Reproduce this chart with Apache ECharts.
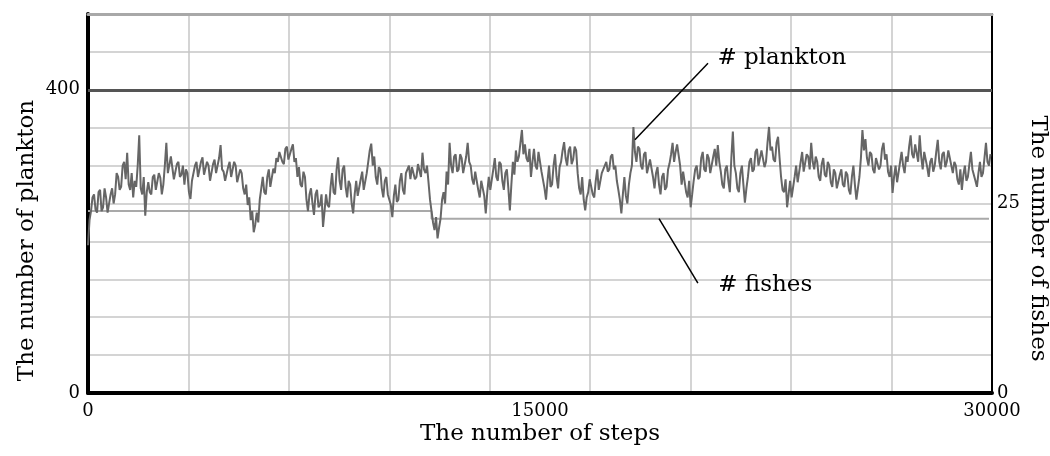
<!DOCTYPE html>
<html><head><meta charset="utf-8">
<script src="https://cdn.jsdelivr.net/npm/echarts@6/dist/echarts.min.js"></script>
<style>html,body{margin:0;padding:0;background:#fff}#c{width:1050px;height:456px}</style>
</head><body><div id="c"></div>
<script>
// ---- data ----
const stepInterval = 50; // plankton sampled every 50 steps
const plankton = [
 195,228, 240,258, 262,242, 238,265, 268,240, 245,270, 258,238, 236,262, 270,250, 262,290,
 285,268, 272,300, 305,282, 317,275, 268,290, 258,280, 272,300, 340,270, 262,285, 234,265,
 278,265, 262,285, 288,268, 270,290, 284,262, 275,300, 330,290, 292,312, 310,282, 280,302,
 305,285, 288,300, 275,295, 290,265, 256,280, 282,300, 305,285, 284,305, 311,288, 290,305,
 300,280, 282,302, 308,290, 288,310, 327,295, 292,280, 278,298, 305,285, 285,305, 300,278,
 280,295, 290,270, 262,275, 248,258, 228,240, 212,222, 238,225, 255,270, 285,265, 262,285,
 295,272, 270,296, 290,310, 305,318, 320,305, 302,322, 325,308, 306,322, 328,305, 310,285,
 298,275, 272,292, 285,255, 240,262, 270,250, 235,262, 268,245, 248,262, 219,240, 262,248,
 245,272, 290,265, 262,295, 311,280, 268,295, 300,272, 258,280, 275,250, 237,262, 280,260,
 262,282, 292,268, 270,290, 305,320, 329,300, 312,285, 275,298, 295,270, 258,280, 285,262,
 262,248, 232,260, 275,252, 255,280, 290,268, 262,290, 288,300, 282,298, 300,282, 285,302,
 303,285, 317,295, 290,300, 278,255, 240,225, 215,232, 204,218, 230,255, 265,250, 292,275,
 330,300, 290,312, 315,292, 295,315, 310,290, 288,312, 330,305, 300,282, 275,292, 290,268,
 258,280, 282,260, 237,265, 285,268, 270,295, 310,285, 280,305, 302,280, 268,290, 295,270,
 241,275, 305,288, 320,305, 312,330, 347,315, 328,310, 305,322, 285,305, 322,300, 295,318,
 318,292, 290,270, 255,280, 300,272, 275,300, 315,285, 270,298, 305,320, 331,310, 300,320,
 325,302, 308,325, 320,290, 270,262, 285,255, 241,258, 265,282, 282,262, 258,280, 295,268,
 270,290, 292,300, 305,292, 295,312, 315,295, 300,280, 268,255, 237,262, 285,260, 250,275,
 290,300, 351,318, 305,325, 322,300, 295,315, 318,290, 288,308, 310,285, 270,290, 298,275,
 262,285, 290,268, 272,295, 303,315, 330,305, 318,328, 328,300, 275,292, 290,265, 258,280,
 245,262, 280,295, 300,282, 285,310, 318,295, 292,315, 310,290, 288,312, 322,300, 327,305,
 292,275, 270,295, 300,280, 265,310, 345,300, 290,270, 265,290, 300,275, 251,270, 285,305,
 310,292, 295,318, 322,300, 300,320, 318,298, 305,330, 351,320, 325,308, 305,330, 338,310,
 285,268, 265,282, 245,262, 280,258, 260,285, 300,278, 278,305, 318,292, 290,315, 312,295,
 330,305, 295,312, 305,285, 280,302, 310,288, 285,305, 300,278, 272,295, 290,270, 268,288,
 295,275, 272,292, 288,268, 262,285, 300,275, 255,270, 285,310, 347,320, 335,310, 300,318,
 315,295, 290,310, 312,295, 300,322, 330,308, 315,292, 285,300, 264,285, 300,278, 280,305,
 318,300, 290,312, 305,325, 340,315, 310,328, 330,305, 340,312, 295,318, 320,298, 285,305,
 310,292, 300,318, 334,305, 295,315, 318,298, 305,320, 322,300, 290,305, 300,282, 275,295,
 268,288, 300,280, 285,302, 318,295, 295,280, 272,290, 305,285, 290,310, 330,305, 300,315
];
const fishSteps = [0, 11400, 29900];
const fishes = [24, 23, 23];
const planktonCap = 400;
const xTickLabels = [0, 15000, 30000];
const leftTickLabels = [0, 400];
const rightTickLabels = [0, 25];
const planktonCallout = [[18150, 334], [20575, 435]];
const fishCallout = [[18950, 23.0], [20240, 14.5]];
const planktonLabelAt = [20870, 442];
const fishLabelAt = [20900, 14.25];

// ---- chart ----
const FONT = "'DejaVu Serif', 'Liberation Serif', serif";
const chart = echarts.init(document.getElementById('c'), null, {renderer: 'canvas'});
const gridColor = '#c6c6c6';
chart.setOption({
  animation: false,
  backgroundColor: '#fff',
  textStyle: {fontFamily: FONT, color: '#000'},
  grid: {left: 88, right: 58, top: 14, bottom: 63, containLabel: false, outerBoundsMode: 'none'},
  xAxis: [
    {type: 'value', min: 0, max: 30000, interval: 30000 / 9, position: 'bottom',
     axisLine: {show: true, onZero: false, lineStyle: {color: '#000', width: 4}},
     axisTick: {show: false}, axisLabel: {show: false},
     splitLine: {show: true, lineStyle: {color: gridColor, width: 1.5}},
     name: 'The number of steps', nameLocation: 'middle', nameGap: 30, nameMoveOverlap: false,
     nameTextStyle: {fontFamily: FONT, fontSize: 23, color: '#000'}},
    {type: 'value', min: 0, max: 30000, interval: 15000, position: 'bottom',
     axisLine: {show: false}, axisTick: {show: false}, splitLine: {show: false},
     axisLabel: {show: true, margin: 9, fontFamily: FONT, fontSize: 18, color: '#000',
       formatter: v => xTickLabels.includes(v) ? String(v) : ''}},
    {type: 'value', min: 0, max: 30000, position: 'top',
     axisLine: {show: true, onZero: false, lineStyle: {color: '#a8a8a8', width: 3}},
     axisTick: {show: false}, axisLabel: {show: false}, splitLine: {show: false}}
  ],
  yAxis: [
    {type: 'value', min: 0, max: 500, interval: 50, position: 'left',
     axisLine: {show: true, onZero: false, lineStyle: {color: '#000', width: 4}},
     axisTick: {show: false},
     axisLabel: {margin: 8, fontFamily: FONT, fontSize: 18, color: '#000',
       formatter: v => leftTickLabels.includes(v) ? String(v) : ''},
     splitLine: {show: true, lineStyle: {color: gridColor, width: 1.5}},
     name: 'The number of plankton', nameLocation: 'middle', nameGap: 49, nameRotate: 90,
     nameMoveOverlap: false,
     nameTextStyle: {fontFamily: FONT, fontSize: 23, color: '#000', padding: [0, 74, 0, 0]}},
    {type: 'value', min: 0, max: 50, interval: 5, position: 'right',
     axisLine: {show: true, onZero: false, lineStyle: {color: '#000', width: 2}},
     axisTick: {show: false},
     axisLabel: {margin: 5, fontFamily: FONT, fontSize: 18, color: '#000',
       formatter: v => rightTickLabels.includes(v) ? String(v) : ''},
     splitLine: {show: false},
     name: 'The number of fishes', nameLocation: 'middle', nameGap: 34, nameRotate: -90,
     nameMoveOverlap: false,
     nameTextStyle: {fontFamily: FONT, fontSize: 23, color: '#000', padding: [0, 0, 0, 70]}}
  ],
  series: [
    {name: '# fishes', type: 'line', xAxisIndex: 0, yAxisIndex: 1, step: 'end',
     symbol: 'none', z: 2,
     data: fishSteps.map((s, i) => [s, fishes[i]]),
     lineStyle: {color: '#a9a9a9', width: 2},
     markLine: {silent: true, symbol: ['none', 'none'], label: {show: false},
       lineStyle: {color: '#000', width: 1.5, type: 'solid'},
       data: [[{coord: fishCallout[0]}, {coord: fishCallout[1]}]]},
     markPoint: {silent: true, symbol: 'rect', symbolSize: 1, itemStyle: {color: 'rgba(0,0,0,0)'},
       label: {show: true, position: 'right', distance: 0, fontFamily: FONT, fontSize: 23, color: '#000',
         formatter: '# fishes'},
       data: [{coord: fishLabelAt}]}},
    {name: '# plankton', type: 'line', xAxisIndex: 0, yAxisIndex: 0,
     symbol: 'none', z: 3,
     data: plankton.map((v, i) => [i * stepInterval, v]),
     lineStyle: {color: '#666666', width: 2},
     markLine: {silent: true, symbol: ['none', 'none'], label: {show: false},
       data: [
         {yAxis: planktonCap, lineStyle: {color: '#555', width: 3, type: 'solid'}},
         [{coord: planktonCallout[0], lineStyle: {color: '#000', width: 1.5, type: 'solid'}},
          {coord: planktonCallout[1]}]
       ]},
     markPoint: {silent: true, symbol: 'rect', symbolSize: 1, itemStyle: {color: 'rgba(0,0,0,0)'},
       label: {show: true, position: 'right', distance: 0, fontFamily: FONT, fontSize: 23, color: '#000',
         formatter: '# plankton'},
       data: [{coord: planktonLabelAt}]}}
  ]
});
</script></body></html>
